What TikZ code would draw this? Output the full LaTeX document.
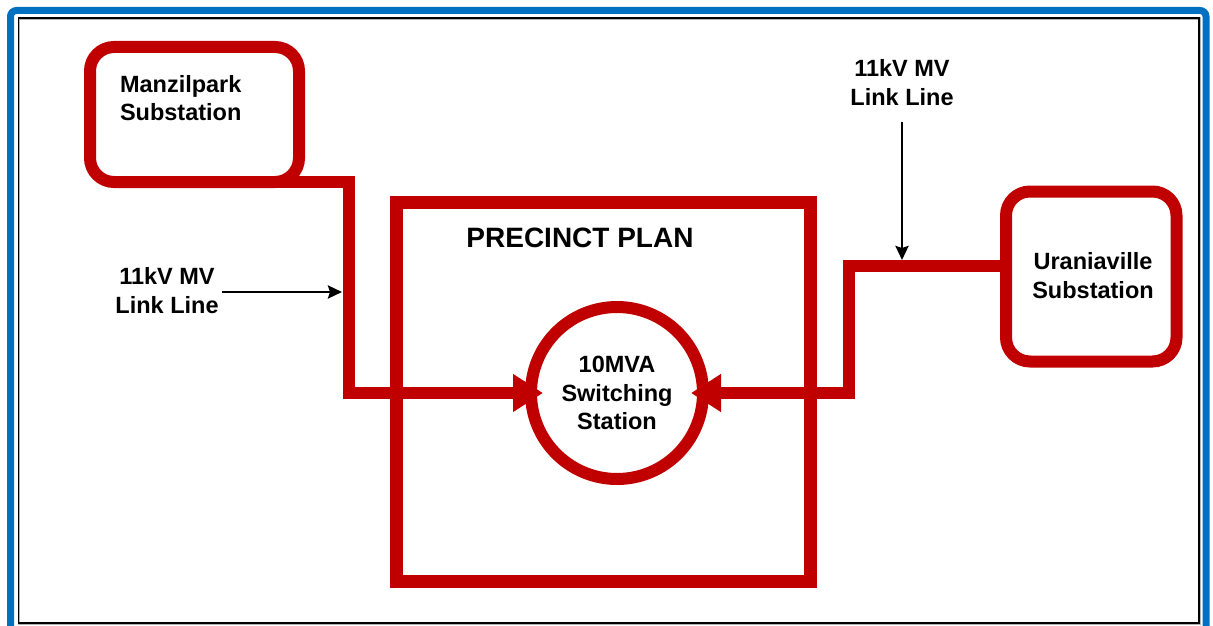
\documentclass[tikz,border=0pt]{standalone}
\usepackage{fontspec}
\setmainfont{Liberation Sans}
\usetikzlibrary{arrows.meta,calc}
\definecolor{dred}{RGB}{192,0,0}
\definecolor{fblue}{RGB}{0,112,192}
\begin{document}
\begin{tikzpicture}[x=1pt,y=-1pt,
  every node/.style={outer sep=0pt},
  redbox/.style={draw=dred, line width=12pt, rectangle, rounded corners=24pt},
  redline/.style={draw=dred, line width=12pt},
  bigarrow/.style={-{Triangle[length=30pt,width=36pt]}},
  lbl/.style={font=\bfseries\fontsize{23.5}{28.5}\selectfont, align=center, inner sep=0pt, text=black},
  blk/.style={draw=black, line width=2.8pt, -{Stealth[length=14pt,width=13pt,inset=2pt]}}
]
\useasboundingbox (0,0) rectangle (1213,626);
% frame
\draw[fblue, line width=7pt, rounded corners=6pt] (10.5,10.5) rectangle (1206,680);
\draw[gray!60, line width=2.6pt] (19,18.5) rectangle (1199.5,623.5);
\draw[black, line width=1.2pt] (18.5,18) rectangle (1199,623);

% precinct
\node[draw=dred, line width=13pt, rectangle, minimum width=413.5pt, minimum height=379pt] (prec) at (603.25,392) {};
\node[lbl, font=\bfseries\fontsize{28}{32}\selectfont] (precl) at (580,238) {PRECINCT PLAN};

% switching station
\node[draw=dred, line width=12pt, circle, minimum size=172pt, lbl, fill=white] (sw) at (617,393) {10MVA\\Switching\\Station};

% substations
\node[redbox, minimum width=209pt, minimum height=135pt] (manz) at (194.5,114.5) {};
\node[lbl, align=left, anchor=north west] (manzl) at (120,75) {Manzilpark\\Substation};
\node[redbox, minimum width=170.5pt, minimum height=170pt] (ura) at (1091.25,276.5) {};
\node[lbl] (ural) at (1093,275.5) {Uraniaville\\Substation};

% connectors
\coordinate (lj) at (348.5,182);
\coordinate (rj) at (849,266);
\draw[redline, bigarrow] ([xshift=-24pt]manz.south east) -- (lj) |- ([xshift=12pt]sw.west);
\draw[redline, bigarrow] (ura.west |- rj) -- (rj) |- ([xshift=-12pt]sw.east);

% labels
\node[lbl] (lblL) at (167,290.5) {11kV MV\\Link Line};
\node[lbl] (lblR) at (902,82.5) {11kV MV\\Link Line};
\coordinate (ltip) at (342,292);
\coordinate (ttip) at (902,260);
\draw[blk] ([xshift=3.5pt]lblL.east |- ltip) -- (ltip);
\draw[blk] ([yshift=-17pt]lblR.south) -- (ttip);
\end{tikzpicture}
\end{document}
